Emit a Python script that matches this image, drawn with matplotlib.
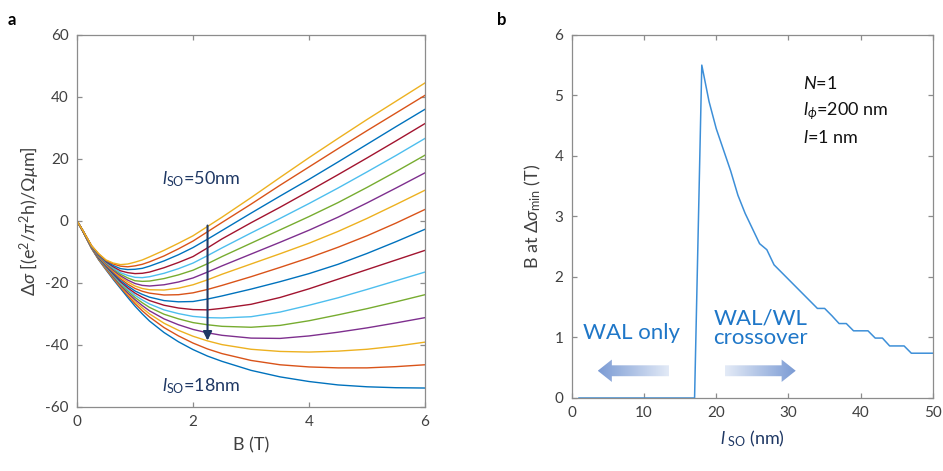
import numpy as np
import matplotlib
matplotlib.use('Agg')
import matplotlib.pyplot as plt
from matplotlib.patches import FancyArrow
from matplotlib.colors import LinearSegmentedColormap

plt.rcParams['font.family'] = ['Lato', 'DejaVu Sans']
plt.rcParams['mathtext.fontset'] = 'custom'
plt.rcParams['mathtext.rm'] = 'Lato'
plt.rcParams['mathtext.it'] = 'Lato:italic'
plt.rcParams['mathtext.bf'] = 'Lato:bold'
plt.rcParams['mathtext.fallback'] = 'stixsans'
plt.rcParams['axes.unicode_minus'] = False

# ---- panel a: magnetoconductance vs field for several l_SO ----
B_field = [0, 0.1, 0.25, 0.375, 0.5, 0.625, 0.75, 0.875, 1.0, 1.125, 1.25,
           1.5, 1.75, 2.0, 2.25, 2.5, 3.0, 3.5, 4.0, 4.5, 5.0, 5.5, 6.0]

ds_18 = [0, -3.4, -8.9, -12.6, -15.8, -18.9, -21.8, -24.7, -27.5, -30.0, -32.3, -36.0, -39.0, -41.5, -43.6, -45.3, -48.2, -50.3, -51.8, -52.9, -53.5, -53.8, -53.9]
ds_20 = [0, -3.4, -8.8, -12.5, -15.6, -18.6, -21.4, -24.1, -26.7, -29.0, -31.0, -34.4, -37.1, -39.4, -41.3, -42.8, -45.0, -46.4, -47.1, -47.4, -47.4, -47.0, -46.4]
ds_22 = [0, -3.4, -8.8, -12.4, -15.4, -18.3, -21.1, -23.6, -26.0, -28.1, -30.0, -33.0, -35.3, -37.2, -38.7, -39.9, -41.4, -42.1, -42.3, -42.0, -41.4, -40.4, -39.1]
ds_24 = [0, -3.3, -8.7, -12.3, -15.2, -18.1, -20.8, -23.2, -25.4, -27.3, -29.0, -31.6, -33.5, -35.0, -36.1, -36.9, -37.8, -37.9, -37.1, -35.9, -34.5, -32.9, -31.2]
ds_26 = [0, -3.3, -8.6, -12.2, -15.0, -17.8, -20.4, -22.6, -24.7, -26.4, -27.9, -30.1, -31.6, -32.8, -33.5, -34.0, -34.3, -33.7, -32.2, -30.3, -28.3, -26.1, -23.8]
ds_28 = [0, -3.3, -8.6, -12.1, -14.8, -17.5, -20.0, -22.1, -24.0, -25.5, -26.8, -28.7, -29.9, -30.8, -31.2, -31.3, -30.9, -29.4, -27.2, -24.8, -22.1, -19.3, -16.5]
ds_30 = [0, -3.3, -8.5, -12.0, -14.6, -17.2, -19.6, -21.6, -23.3, -24.6, -25.7, -27.2, -28.1, -28.6, -28.7, -28.2, -26.9, -24.7, -21.9, -18.8, -15.7, -12.6, -9.5]
ds_32 = [0, -3.2, -8.4, -11.9, -14.4, -16.9, -19.2, -21.0, -22.6, -23.7, -24.6, -25.7, -26.1, -26.0, -25.2, -24.2, -22.0, -19.6, -17.0, -14.0, -10.5, -6.7, -2.7]
ds_34 = [0, -3.2, -8.4, -11.7, -14.2, -16.5, -18.7, -20.4, -21.8, -22.7, -23.3, -23.9, -23.8, -23.2, -22.1, -20.8, -18.0, -15.0, -11.9, -8.5, -4.8, -0.7, 3.7]
ds_36 = [0, -3.2, -8.3, -11.6, -14.0, -16.2, -18.2, -19.7, -21.0, -21.8, -22.2, -22.3, -21.7, -20.6, -19.0, -17.2, -13.9, -10.6, -7.2, -3.4, 0.8, 5.3, 9.9]
ds_38 = [0, -3.2, -8.3, -11.5, -13.8, -15.9, -17.7, -19.1, -20.2, -20.8, -21.0, -20.6, -19.7, -18.4, -16.5, -14.5, -10.7, -6.9, -3.0, 1.2, 5.8, 10.6, 15.5]
ds_40 = [0, -3.2, -8.2, -11.3, -13.6, -15.5, -17.2, -18.4, -19.3, -19.5, -19.4, -18.6, -17.4, -15.9, -13.8, -11.5, -7.2, -2.9, 1.4, 5.9, 10.8, 15.9, 21.2]
ds_42 = [0, -3.1, -8.2, -11.2, -13.4, -15.2, -16.7, -17.6, -18.2, -18.3, -18.0, -16.9, -15.4, -13.6, -11.2, -8.7, -3.9, 0.8, 5.6, 10.6, 15.8, 21.1, 26.6]
ds_44 = [0, -3.1, -8.1, -11.0, -13.2, -14.8, -16.1, -16.7, -17.0, -16.9, -16.5, -15.1, -13.4, -11.5, -8.7, -5.8, -0.6, 4.4, 9.6, 14.9, 20.3, 25.8, 31.4]
ds_46 = [0, -3.1, -8.1, -10.9, -13.0, -14.4, -15.4, -15.7, -15.6, -15.3, -14.6, -12.9, -10.9, -8.6, -5.9, -3.1, 2.5, 8.0, 13.4, 19.0, 24.7, 30.4, 36.0]
ds_48 = [0, -3.1, -8.0, -10.7, -12.8, -13.9, -14.6, -14.8, -14.5, -14.0, -13.2, -11.3, -9.0, -6.5, -3.5, -0.5, 5.4, 11.5, 17.4, 23.3, 29.1, 34.8, 40.5]
ds_50 = [0, -3.1, -8.0, -10.6, -12.6, -13.6, -14.1, -13.9, -13.3, -12.6, -11.6, -9.5, -7.2, -4.8, -1.8, 1.2, 7.5, 14.0, 20.4, 26.6, 32.7, 38.6, 44.5]

curves_a = [ds_18, ds_20, ds_22, ds_24, ds_26, ds_28, ds_30, ds_32, ds_34,
            ds_36, ds_38, ds_40, ds_42, ds_44, ds_46, ds_48, ds_50]

# ---- panel b: field at conductance minimum vs l_SO ----
l_so = list(range(1, 51))
B_min = [0] * 17 + [5.5, 4.9, 4.45, 4.1, 3.75, 3.35, 3.05, 2.8, 2.55, 2.45, 2.2,
                    2.08, 1.96, 1.84, 1.72, 1.6, 1.48, 1.48, 1.36, 1.23, 1.23,
                    1.11, 1.11, 1.11, 0.99, 0.99, 0.86, 0.86, 0.86, 0.74, 0.74,
                    0.74, 0.74]

matlab_colors = ['#0072BD', '#D95319', '#EDB120', '#7E2F8E',
                 '#77AC30', '#4DBEEE', '#A2142F']
navy = '#1f3864'
axis_gray = '#8c8c8c'
text_gray = '#404040'

fig = plt.figure(figsize=(9.43, 4.71), dpi=100)
ax1 = fig.add_axes([0.0817, 0.136, 0.369, 0.790])
ax2 = fig.add_axes([0.6063, 0.155, 0.3831, 0.771])


def style_axes(ax):
    for sp in ax.spines.values():
        sp.set_color(axis_gray)
        sp.set_linewidth(0.9)
    ax.tick_params(direction='in', top=True, right=True, length=3.5,
                   width=0.9, color=axis_gray, labelcolor=text_gray,
                   labelsize=11, pad=6)


# panel a
for k, ds in enumerate(curves_a):
    ax1.plot(B_field, ds, color=matlab_colors[k % 7], lw=1.0)
ax1.set_xlim(0, 6)
ax1.set_ylim(-60, 60)
ax1.set_xticks([0, 2, 4, 6])
ax1.set_yticks(np.arange(-60, 61, 20))
style_axes(ax1)
ax1.set_xlabel('B (T)', fontsize=13, color=text_gray, labelpad=6)
ax1.set_ylabel(r'$\Delta\sigma$ [(e$^2$/$\pi^2$h)/$\Omega\mu$m]', fontsize=13,
               color=text_gray, labelpad=2)
ax1.annotate('', xy=(2.25, -38.6), xytext=(2.25, -1.5),
             arrowprops=dict(arrowstyle='-|>', color=navy, lw=1.5,
                             mutation_scale=13, shrinkA=0, shrinkB=0))
ax1.text(1.47, 13.4, r'$\it{l}_{\rm SO}$=50nm', color=navy, fontsize=13,
         va='center', ha='left')
ax1.text(1.47, -53.3, r'$\it{l}_{\rm SO}$=18nm', color=navy, fontsize=13,
         va='center', ha='left')
fig.text(0.008, 0.975, 'a', fontsize=12, fontweight='bold', va='top')

# panel b
ax2.plot(l_so, B_min, color='#3d8fd8', lw=1.1)
ax2.set_xlim(0, 50)
ax2.set_ylim(0, 6)
ax2.set_xticks(np.arange(0, 51, 10))
ax2.set_yticks(np.arange(0, 7, 1))
style_axes(ax2)
ax2.set_xlabel(r'$\it{l}_{\rm\ SO}$ (nm)', fontsize=13, color=navy, labelpad=6)
ax2.set_ylabel(r'B at $\Delta\sigma_{\rm min}$ (T)', fontsize=13,
               color=text_gray, labelpad=8)
ax2.text(32.0, 5.2, r'$\it{N}$=1', fontsize=13, va='center', color='#111111')
ax2.text(32.0, 4.74, r'$\it{l}_{\phi}$=200 nm', fontsize=13, va='center',
         color='#111111')
ax2.text(32.0, 4.3, r'$\it{l}$=1 nm', fontsize=13, va='center', color='#111111')
ax2.text(1.6, 1.07, 'WAL only', fontsize=16, color='#1f77c8', va='center')
ax2.text(19.6, 1.15, 'WAL/WL\ncrossover', fontsize=16, color='#1f77c8',
         va='center', linespacing=1.0)

# shaded direction arrows, gradient clipped to the arrow outline
fade = LinearSegmentedColormap.from_list('fade', ['#e4ebf7', '#7b9bd4'])
grad = np.linspace(0, 1, 256).reshape(1, -1)
for x0, x1 in [(13.46, 3.6), (21.2, 31.0)]:
    arr = FancyArrow(x0, 0.45, x1 - x0, 0, width=0.18, head_width=0.37,
                     head_length=1.95, length_includes_head=True,
                     facecolor='none', edgecolor='none')
    ax2.add_patch(arr)
    img = grad if x1 > x0 else grad[:, ::-1]
    im = ax2.imshow(img, cmap=fade, aspect='auto',
                    extent=(min(x0, x1), max(x0, x1), 0.2, 0.7), zorder=1)
    im.set_clip_path(arr)
ax2.set_xlim(0, 50)
ax2.set_ylim(0, 6)
fig.text(0.527, 0.975, 'b', fontsize=12, fontweight='bold', va='top')

fig.savefig('out.png', dpi=100)
